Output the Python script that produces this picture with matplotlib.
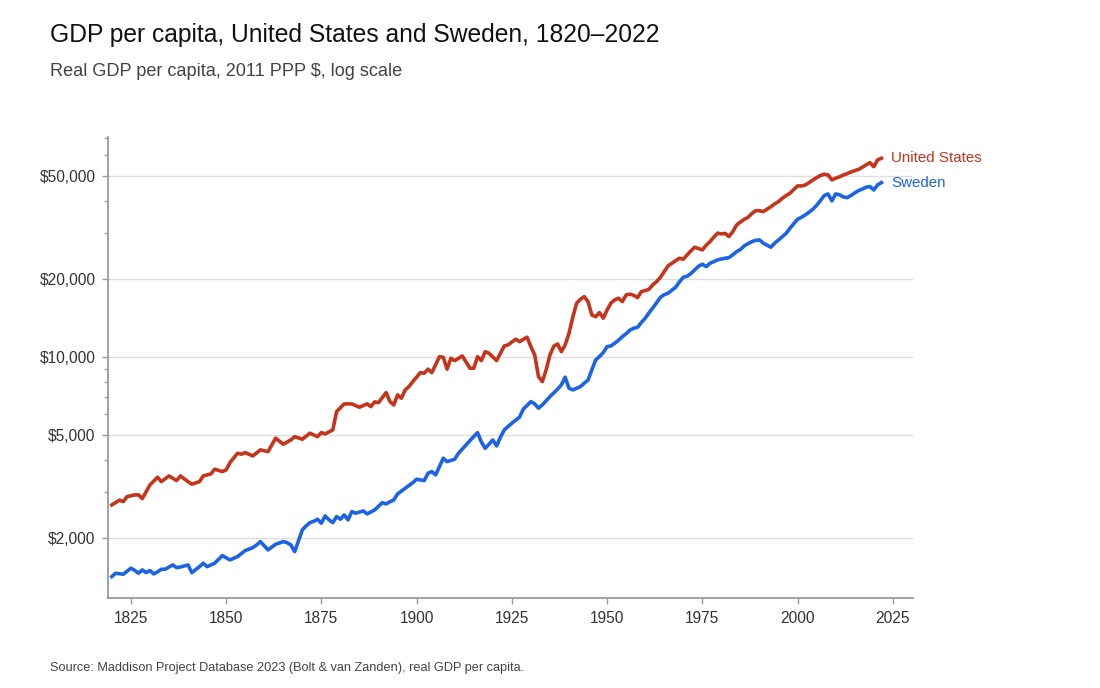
import matplotlib
matplotlib.use("Agg")
import matplotlib.pyplot as plt
from matplotlib.ticker import FixedLocator, FuncFormatter, LogLocator, NullFormatter

# ---------------- data ----------------
us_years = [1820, 1822, 1823, 1824, 1826, 1827, 1828, 1830, 1832, 1833, 1835, 1837, 1838, 1840,
            1841, 1843, 1844, 1846, 1847, 1849, 1850, 1851, 1853, 1854, 1855, 1857, 1859, 1861,
            1863, 1865, 1867, 1868, 1870, 1872, 1874, 1875, 1876, 1878, 1879, 1881, 1883, 1885,
            1887, 1888, 1889, 1890, 1892, 1893, 1894, 1895, 1896, 1897, 1898, 1899, 1901, 1902,
            1903, 1904, 1906, 1907, 1908, 1909, 1910, 1911, 1912, 1914, 1915, 1916, 1917, 1918,
            1919, 1921, 1923, 1924, 1926, 1927, 1929, 1930, 1931, 1932, 1933, 1934, 1935, 1936,
            1937, 1938, 1939, 1940, 1941, 1942, 1943, 1944, 1945, 1946, 1947, 1948, 1949, 1950,
            1951, 1952, 1953, 1954, 1955, 1956, 1957, 1958, 1959, 1960, 1961, 1962, 1963, 1964,
            1965, 1966, 1967, 1968, 1969, 1970, 1971, 1972, 1973, 1974, 1975, 1976, 1977, 1978,
            1979, 1980, 1981, 1982, 1983, 1984, 1985, 1986, 1987, 1988, 1989, 1990, 1991, 1992,
            1993, 1994, 1995, 1996, 1997, 1998, 1999, 2000, 2001, 2002, 2003, 2004, 2005, 2006,
            2007, 2008, 2009, 2010, 2011, 2012, 2013, 2014, 2015, 2016, 2017, 2018, 2019, 2020,
            2021, 2022]
us_gdp = [2684, 2800, 2764, 2889, 2933, 2935, 2838, 3206, 3433, 3301, 3473, 3331, 3473, 3301,
          3227, 3301, 3473, 3535, 3687, 3609, 3664, 3908, 4249, 4212, 4273, 4149, 4377, 4311,
          4858, 4604, 4783, 4925, 4813, 5077, 4925, 5104, 5046, 5228, 6152, 6588, 6588, 6397,
          6588, 6433, 6706, 6664, 7285, 6724, 6529, 7137, 6931, 7461, 7684, 8033, 8700, 8655,
          8969, 8700, 10030, 9977, 8969, 9888, 9680, 9888, 10092, 9048, 9048, 10030, 9680, 10486,
          10337, 9680, 11030, 11130, 11710, 11460, 11920, 10960, 10180, 8398, 8033, 8913, 10180, 11000,
          11230, 10486, 11130, 12350, 14240, 16130, 16700, 17100, 16360, 14530, 14300, 14840, 14110, 15190,
          16130, 16610, 16860, 16360, 17360, 17470, 17300, 16950, 17880, 18040, 18260, 19000, 19540, 20300,
          21360, 22470, 23010, 23550, 24060, 23850, 24770, 25700, 26530, 26200, 25900, 27000, 27880, 29000,
          30060, 29870, 30000, 29150, 30500, 32340, 33200, 34000, 34600, 35800, 36730, 36700, 36410, 37200,
          38060, 39000, 39790, 41000, 42000, 42880, 44300, 45750, 45750, 46100, 47110, 48200, 49250, 50200,
          50770, 50450, 48260, 49000, 49600, 50400, 51000, 51800, 52420, 53000, 54000, 55200, 56290, 54310,
          57650, 58520]

se_years = [1820, 1821, 1822, 1823, 1825, 1826, 1827, 1828, 1829, 1830, 1831, 1832, 1833, 1834,
            1836, 1837, 1838, 1840, 1841, 1843, 1844, 1845, 1847, 1849, 1851, 1853, 1855, 1857,
            1858, 1859, 1861, 1863, 1865, 1866, 1867, 1868, 1870, 1871, 1872, 1873, 1874, 1875,
            1876, 1877, 1878, 1879, 1880, 1881, 1882, 1883, 1884, 1886, 1887, 1889, 1891, 1892,
            1893, 1894, 1895, 1897, 1899, 1900, 1902, 1903, 1904, 1905, 1907, 1908, 1910, 1911,
            1913, 1914, 1916, 1917, 1918, 1919, 1920, 1921, 1922, 1923, 1925, 1927, 1928, 1930,
            1931, 1932, 1933, 1935, 1937, 1938, 1939, 1940, 1941, 1943, 1945, 1946, 1947, 1948,
            1949, 1950, 1951, 1952, 1953, 1954, 1955, 1956, 1957, 1958, 1959, 1960, 1961, 1962,
            1963, 1964, 1965, 1966, 1967, 1968, 1969, 1970, 1971, 1972, 1973, 1974, 1975, 1976,
            1977, 1978, 1979, 1980, 1981, 1982, 1983, 1984, 1985, 1986, 1987, 1988, 1989, 1990,
            1991, 1992, 1993, 1994, 1995, 1996, 1997, 1998, 1999, 2000, 2001, 2002, 2003, 2004,
            2005, 2006, 2007, 2008, 2009, 2010, 2011, 2012, 2013, 2014, 2015, 2016, 2017, 2018,
            2019, 2020, 2021, 2022]
se_gdp = [1419, 1462, 1455, 1449, 1529, 1500, 1462, 1506, 1470, 1497, 1453, 1480, 1515, 1515,
          1574, 1537, 1545, 1574, 1470, 1550, 1598, 1550, 1598, 1710, 1646, 1695, 1788, 1836,
          1880, 1936, 1799, 1892, 1936, 1919, 1880, 1772, 2149, 2226, 2293, 2320, 2363, 2281,
          2434, 2350, 2293, 2419, 2363, 2455, 2349, 2529, 2493, 2544, 2477, 2567, 2739, 2707,
          2760, 2805, 2959, 3113, 3271, 3373, 3331, 3557, 3609, 3504, 4064, 3944, 4029, 4249,
          4575, 4753, 5104, 4700, 4441, 4600, 4783, 4533, 4900, 5228, 5549, 5853, 6285, 6724,
          6588, 6342, 6529, 7031, 7507, 7801, 8353, 7575, 7461, 7684, 8154, 8913, 9741, 10030,
          10400, 10960, 11030, 11300, 11600, 11980, 12300, 12700, 12910, 13020, 13600, 14110, 14800, 15470,
          16200, 17000, 17400, 17620, 18100, 18590, 19500, 20300, 20500, 21000, 21680, 22400, 22810, 22330,
          23000, 23340, 23700, 23900, 24060, 24200, 24800, 25510, 26000, 26840, 27400, 27880, 28200, 28310,
          27490, 27000, 26530, 27500, 28300, 29150, 30000, 31410, 32700, 34020, 34600, 35350, 36200, 37190,
          38500, 40150, 42000, 42610, 40050, 42610, 42300, 41500, 41230, 42000, 43000, 43870, 44500, 45230,
          45500, 44140, 46160, 47110]

y_ticks = [2000, 5000, 10000, 20000, 50000]
x_ticks = [1825, 1850, 1875, 1900, 1925, 1950, 1975, 2000, 2025]
series_names = ["United States", "Sweden"]

# ---------------- style ----------------
plt.rcParams['font.family'] = ['Liberation Sans', 'DejaVu Sans']
US_COLOR = "#C6341B"
SE_COLOR = "#1C63E6"
AXIS_COLOR = "#9a9a9a"

fig = plt.figure(figsize=(11, 6.88), dpi=100)
ax = fig.add_axes([0.0982, 0.1308, 0.7318, 0.6701])

ax.plot(us_years, us_gdp, color=US_COLOR, lw=2.6, solid_joinstyle='round', zorder=3)
ax.plot(se_years, se_gdp, color=SE_COLOR, lw=2.6, solid_joinstyle='round', zorder=3)

ax.set_yscale('log')
ax.set_ylim(1173, 70700)
ax.set_xlim(1819.0, 2030.3)

ax.yaxis.set_major_locator(FixedLocator(y_ticks))
ax.yaxis.set_major_formatter(FuncFormatter(lambda v, p: f"${v:,.0f}"))
ax.yaxis.set_minor_locator(LogLocator(base=10, subs=range(1, 10)))
ax.yaxis.set_minor_formatter(NullFormatter())
ax.xaxis.set_major_locator(FixedLocator(x_ticks))

ax.grid(axis='y', which='major', color='#dedede', lw=1.0, zorder=0)
for s in ['top', 'right']:
    ax.spines[s].set_visible(False)
for s in ['left', 'bottom']:
    ax.spines[s].set_color(AXIS_COLOR)
    ax.spines[s].set_linewidth(1.3)

ax.tick_params(axis='both', which='major', length=4, width=1, color=AXIS_COLOR,
               labelsize=11.2, labelcolor='#333333', pad=5)
ax.tick_params(axis='y', which='minor', length=3, width=1, color=AXIS_COLOR)

# end labels
ax.annotate(series_names[0], xy=(us_years[-1], us_gdp[-1]), xytext=(7, 0),
            textcoords='offset points', va='center', ha='left', color=US_COLOR, fontsize=10.9)
ax.annotate(series_names[1], xy=(se_years[-1], se_gdp[-1]), xytext=(7, 0),
            textcoords='offset points', va='center', ha='left', color=SE_COLOR, fontsize=10.9)

fig.text(50 / 1100, 1 - 35 / 688, "GDP per capita, United States and Sweden, 1820–2022",
         fontsize=17.7, color='#111111', va='center', ha='left')
fig.text(50 / 1100, 1 - 72 / 688, "Real GDP per capita, 2011 PPP $, log scale",
         fontsize=13.1, color='#444444', va='center', ha='left')
fig.text(50 / 1100, 1 - 668 / 688,
         "Source: Maddison Project Database 2023 (Bolt & van Zanden), real GDP per capita.",
         fontsize=9.2, color='#444444', va='center', ha='left')

fig.savefig("out.png", dpi=100)
